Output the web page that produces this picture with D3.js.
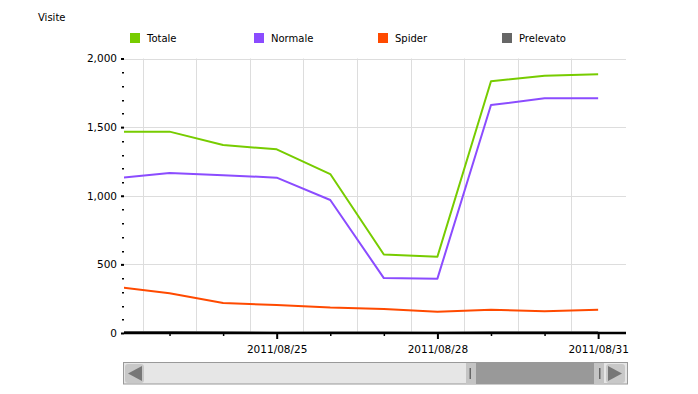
<!DOCTYPE html>
<html><head><meta charset="utf-8">
<script src="https://cdn.jsdelivr.net/npm/d3@7/dist/d3.min.js"></script>
<style>body{margin:0;background:#fff}svg{display:block;font-family:"DejaVu Sans",Verdana,sans-serif}</style>
</head><body><svg id="c" width="698" height="394"></svg>
<script>
const dates = ["2011/08/22","2011/08/23","2011/08/24","2011/08/25","2011/08/26","2011/08/27","2011/08/28","2011/08/29","2011/08/30","2011/08/31"];
const totale   = [1467,1467,1370,1338,1158,572,556,1834,1875,1885];
const normale  = [1128,1166,1150,1132,969,400,396,1661,1710,1710];
const spider   = [337,289,219,204,185,175,155,170,158,170];
const prelevato= [7,8,6,2,4,3,2,5,6,6];
const seriesNames = ["Totale","Normale","Spider","Prelevato"];
const seriesColors = ["#77cc00","#8b4cff","#ff4a00","#666666"];
const yTicks = [0,500,1000,1500,2000];
const xLabelTicks = [3,6,9];

const svg = d3.select("#c");
const L=124, R=626, B=333, T=58.5;
const x = d3.scaleLinear().domain([0.15, 9.52]).range([L, R]);
const y = d3.scaleLinear().domain([0, 2000]).range([B, T]);

// title
svg.append("text").attr("x",38).attr("y",21).attr("font-size",10).attr("fill","#000").text("Visite");

// legend
const lg = svg.append("g");
seriesNames.forEach((n,i)=>{
  const gx = 130 + i*124;
  lg.append("rect").attr("x",gx).attr("y",33).attr("width",10).attr("height",10).attr("fill",seriesColors[i]);
  lg.append("text").attr("x",gx+17).attr("y",42).attr("font-size",10).attr("fill","#000").text(n);
});

// grid
const grid = svg.append("g").attr("stroke","#dddddd").attr("stroke-width",1);
yTicks.filter(v=>v>0).forEach(v=>{
  grid.append("line").attr("x1",L).attr("x2",R).attr("y1",Math.round(y(v))+0.5).attr("y2",Math.round(y(v))+0.5);
});
d3.range(0,10).map(i=>i+0.5).filter(d=>x(d)>L && x(d)<R-2).forEach(d=>{
  grid.append("line").attr("x1",Math.round(x(d))+0.5).attr("x2",Math.round(x(d))+0.5).attr("y1",T).attr("y2",B);
});

// y axis minor ticks
const yMinor = d3.range(100,2000,100).filter(v=>v%500!==0);
svg.append("g").selectAll("rect").data(yMinor).join("rect")
  .attr("x",122).attr("y",d=>Math.round(y(d))).attr("width",2).attr("height",1.5).attr("fill","#000");
// y axis major ticks
const yAxis = svg.append("g").attr("transform",`translate(${L},0)`)
  .call(d3.axisLeft(y).tickValues(yTicks).tickSize(3).tickPadding(4).tickFormat(d3.format(",")));
yAxis.select(".domain").remove();
yAxis.selectAll(".tick line").attr("stroke","#000").attr("stroke-width",2);
yAxis.selectAll(".tick text").attr("font-family","DejaVu Sans").attr("font-size",10.5).attr("fill","#000");

// lines
svg.append("defs").append("clipPath").attr("id","clip").append("rect")
  .attr("x",L).attr("y",0).attr("width",R-L).attr("height",B+2);
const line = d3.line().x((d,i)=>x(i)).y(d=>y(d));
const lines = svg.append("g").attr("clip-path","url(#clip)");
[totale, normale, spider].forEach((s,i)=>{
  lines.append("path").datum(s).attr("d",line).attr("fill","none")
    .attr("stroke",seriesColors[i]).attr("stroke-width",2).attr("stroke-linejoin","round");
});

// x axis
svg.append("line").attr("x1",L).attr("x2",R).attr("y1",B).attr("y2",B).attr("stroke","#000").attr("stroke-width",2.5);
lines.append("path").datum(prelevato).attr("d",line).attr("fill","none")
  .attr("stroke",seriesColors[3]).attr("stroke-width",2);
const xMinor = svg.append("g").attr("transform",`translate(0,${B})`)
  .call(d3.axisBottom(x).tickValues(d3.range(1,10).filter(d=>!xLabelTicks.includes(d))).tickSize(3).tickFormat(""));
xMinor.select(".domain").remove();
xMinor.selectAll(".tick line").attr("stroke","#000").attr("stroke-width",1.5);
const xMajor = svg.append("g").attr("transform",`translate(0,${B})`)
  .call(d3.axisBottom(x).tickValues(xLabelTicks).tickSize(6).tickPadding(7).tickFormat(d=>dates[d]));
xMajor.select(".domain").remove();
xMajor.selectAll(".tick line").attr("stroke","#000").attr("stroke-width",2);
xMajor.selectAll(".tick text").attr("font-family","DejaVu Sans").attr("font-size",10.5).attr("fill","#000");

// scrollbar
const sb = svg.append("g");
sb.append("rect").attr("x",123.5).attr("y",362.5).attr("width",504).attr("height",21.5).attr("fill","#e6e6e6").attr("stroke","#999").attr("stroke-width",1);
sb.append("rect").attr("x",125).attr("y",364).attr("width",19).attr("height",19).attr("rx",3).attr("fill","#c8c8c8");
sb.append("path").attr("d","M128,373.5 L142,366 L142,381 Z").attr("fill","#777");
sb.append("rect").attr("x",606).attr("y",364).attr("width",19).attr("height",19).attr("rx",3).attr("fill","#c8c8c8");
sb.append("path").attr("d","M622,373.5 L608,366 L608,381 Z").attr("fill","#777");
sb.append("rect").attr("x",466).attr("y",363).attr("width",138).attr("height",21).attr("fill","#c4c4c4");
sb.append("rect").attr("x",476).attr("y",363).attr("width",118).attr("height",21).attr("fill","#999");
sb.append("rect").attr("x",469.5).attr("y",368).attr("width",1.5).attr("height",11).attr("fill","#666");
sb.append("rect").attr("x",599).attr("y",368).attr("width",1.5).attr("height",11).attr("fill","#666");
</script></body></html>
